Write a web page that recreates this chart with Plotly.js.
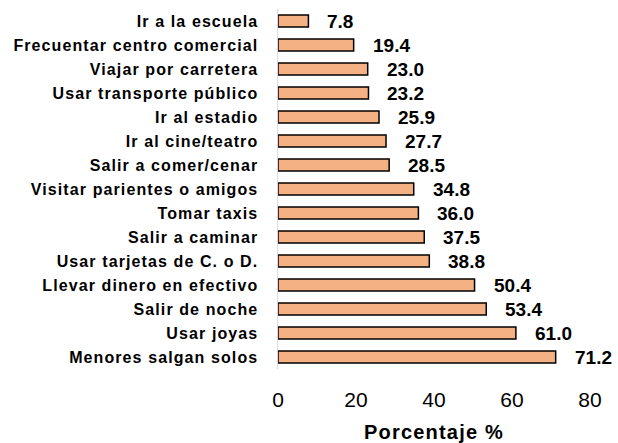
<!DOCTYPE html>
<html>
<head>
<meta charset="utf-8">
<script src="https://cdn.plot.ly/plotly-3.0.1.min.js"></script>
<style>
  body { margin: 0; background: #fff; }
  #chart { width: 618px; height: 443px; }
  /* the original labels are set a bit wider than plain Arial bold */
  #chart .ytick text { letter-spacing: 1.1px; }
  #chart .g-xtitle text { letter-spacing: 1.2px; }
</style>
</head>
<body>
<div id="chart"></div>
<script>
// categories listed bottom to top
const categories = [
    'Menores salgan solos',
    'Usar joyas',
    'Salir de noche',
    'Llevar dinero en efectivo',
    'Usar tarjetas de C. o D.',
    'Salir a caminar',
    'Tomar taxis',
    'Visitar parientes o amigos',
    'Salir a comer/cenar',
    'Ir al cine/teatro',
    'Ir al estadio',
    'Usar transporte público',
    'Viajar por carretera',
    'Frecuentar centro comercial',
    'Ir a la escuela'
];
const values = [71.2, 61.0, 53.4, 50.4, 38.8, 37.5, 36.0, 34.8, 28.5, 27.7, 25.9, 23.2, 23.0, 19.4, 7.8];
const xTicks = [0, 20, 40, 60, 80];

const bars = {
    type: 'bar',
    orientation: 'h',
    x: values,
    y: categories,
    width: 0.5,
    marker: {
        color: '#F4B183',
        line: { color: '#000000', width: 1.5 }
    },
    hoverinfo: 'x+y'
};

// value labels next to bar ends
const labels = values.map((v, i) => ({
    x: v,
    y: categories[i],
    xref: 'x',
    yref: 'y',
    text: v.toFixed(1),
    showarrow: false,
    xanchor: 'left',
    yanchor: 'middle',
    xshift: 17,
    font: { family: 'Liberation Sans, Arial, sans-serif', size: 19, color: '#000', weight: 'bold' }
}));

const layout = {
    width: 618,
    height: 443,
    margin: { l: 278, r: 28, t: 9, b: 74 },
    paper_bgcolor: '#ffffff',
    plot_bgcolor: '#ffffff',
    showlegend: false,
    font: { family: 'Liberation Sans, Arial, sans-serif', color: '#000' },
    xaxis: {
        range: [0, 80],
        tickvals: xTicks,
        ticktext: xTicks.map(String),
        showgrid: false,
        zeroline: false,
        showline: false,
        ticks: '',
        ticklabelstandoff: 16,
        tickfont: { size: 21, color: '#000' },
        title: {
            text: '<b>Porcentaje %</b>',
            font: { size: 20, color: '#000' },
            standoff: 14
        }
    },
    yaxis: {
        type: 'category',
        categoryorder: 'array',
        categoryarray: categories,
        range: [-0.5, 14.5],
        showgrid: false,
        zeroline: false,
        showline: true,
        linecolor: '#d9d9d9',
        linewidth: 1.5,
        ticks: '',
        ticklabelstandoff: 15,
        tickfont: { size: 16, color: '#000', weight: 'bold' }
    },
    annotations: labels
};

Plotly.newPlot('chart', [bars], layout, { displayModeBar: false, staticPlot: true });
</script>
</body>
</html>
